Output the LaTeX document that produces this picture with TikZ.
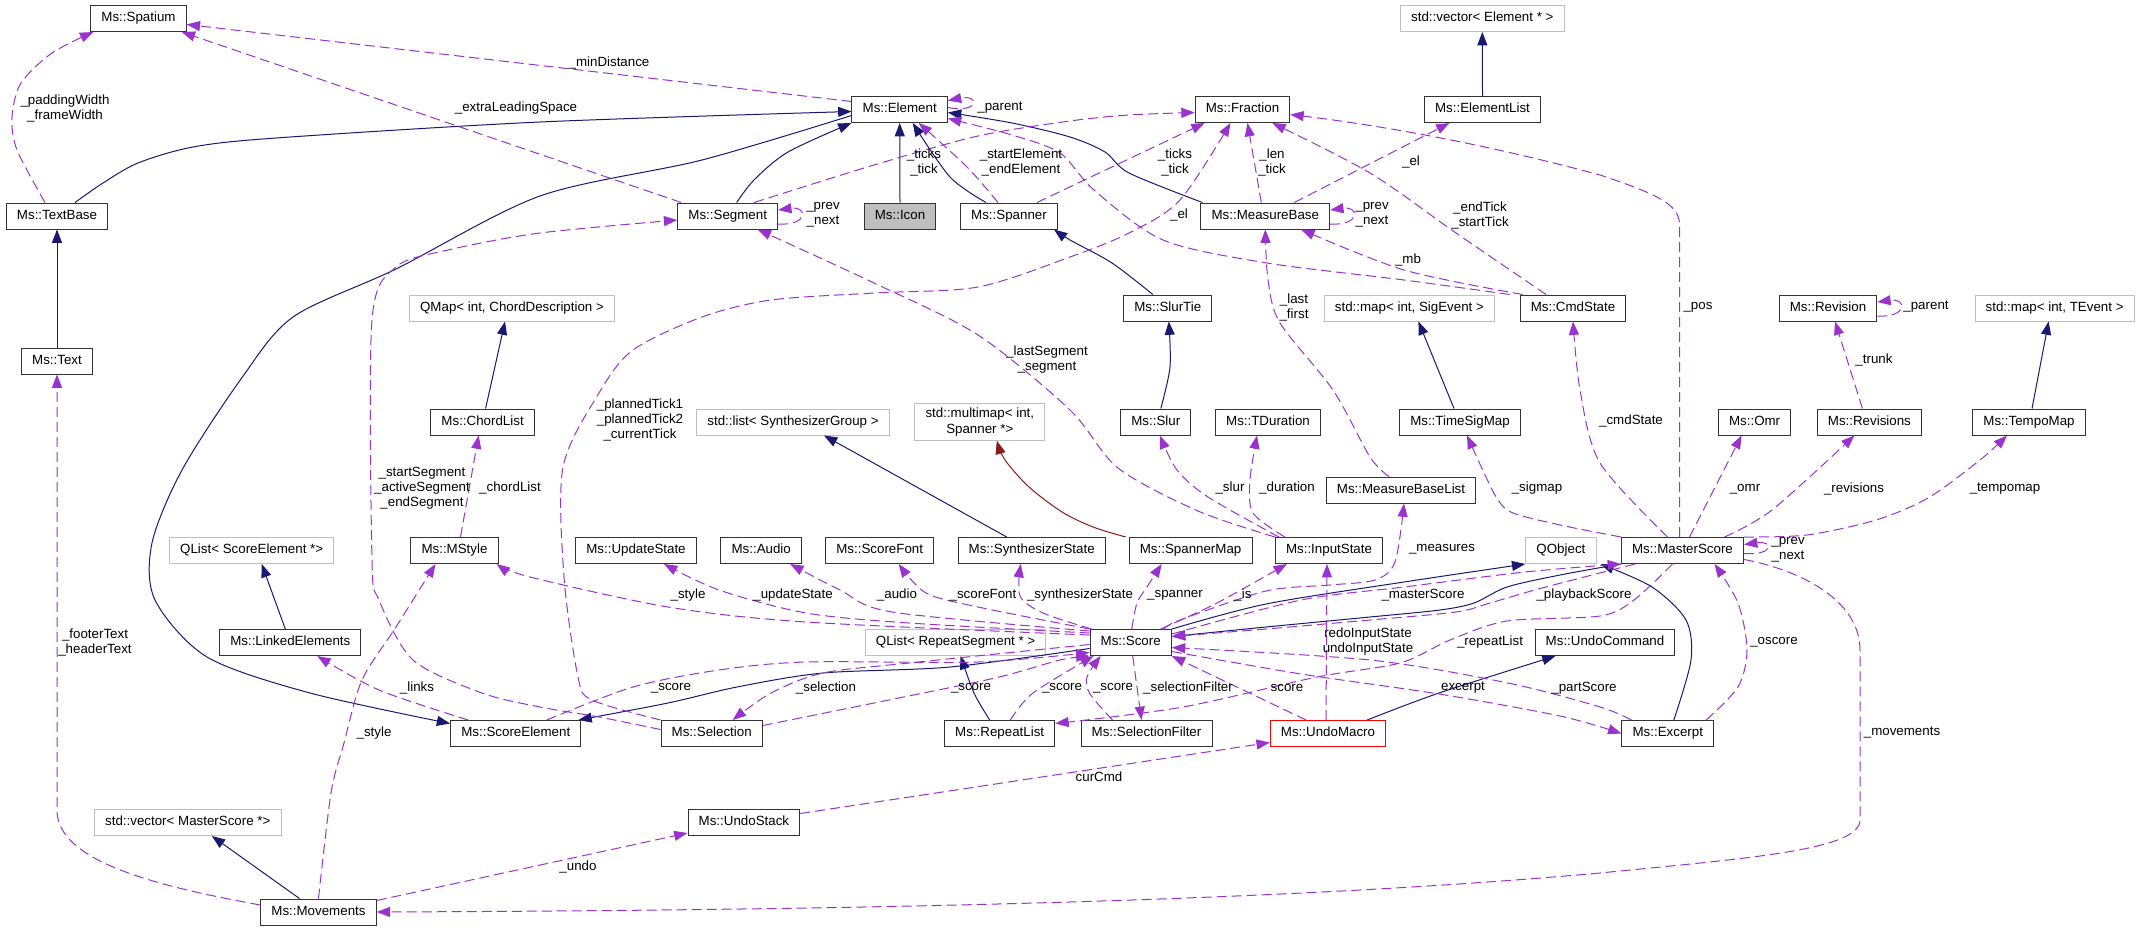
\documentclass[tikz,border=0pt]{standalone}
\usepackage{fontspec}
\setmainfont{Liberation Sans}
\usetikzlibrary{arrows.meta,calc}
\definecolor{inhblue}{HTML}{191970}
\definecolor{usepurple}{HTML}{9A32CD}
\definecolor{tmplred}{HTML}{8B1A1A}
\definecolor{extgrey}{HTML}{BFBFBF}
\tikzset{
  box/.style={line width=0.75pt, fill=white, inner xsep=8pt, inner ysep=2pt, minimum height=19.5pt, font=\fontsize{10}{12}\selectfont},
  cls/.style={box, draw=black!80, text height=7.2pt, text depth=2.1pt},
  ext/.style={box, draw=extgrey, text height=7.2pt, text depth=2.1pt},
  extm/.style={box, draw=extgrey, align=center, inner ysep=3pt},
  lbl/.style={inner sep=0pt, align=center, font=\fontsize{10}{11.25}\selectfont},
  tip/.style={-{Triangle[length=10pt,width=7.5pt]}},
  inherit/.style={draw=inhblue, line width=0.75pt, tip},
  tmpl/.style={draw=tmplred, line width=0.75pt, tip},
  usage/.style={draw=usepurple, line width=0.75pt, dash pattern=on 7.5pt off 3.75pt, tip}
}
\begin{document}
\begin{tikzpicture}[x=0.75pt,y=-0.75pt]
\useasboundingbox (0,0) rectangle (2141,931);

\node[cls] (spatium) at (138.5,18.5) {Ms::Spatium};
\node[cls] (element) at (899.7,109.5) {Ms::Element};
\node[cls] (fraction) at (1242.5,109.5) {Ms::Fraction};
\node[ext] (vecelement) at (1482.3,18.5) {std::vector< Element * >};
\node[cls] (elementlist) at (1482.5,109.5) {Ms::ElementList};
\node[cls] (textbase) at (57,216) {Ms::TextBase};
\node[cls] (segment) at (727.7,216) {Ms::Segment};
\node[cls, fill=extgrey] (icon) at (900,216) {Ms::Icon};
\node[cls] (spanner) at (1009,216) {Ms::Spanner};
\node[cls] (measurebase) at (1265.3,216) {Ms::MeasureBase};
\node[ext] (qmapchord) at (512,308) {QMap< int, ChordDescription >};
\node[cls] (slurtie) at (1167.8,308) {Ms::SlurTie};
\node[ext] (mapsig) at (1409.4,308) {std::map< int, SigEvent >};
\node[cls] (cmdstate) at (1573,308) {Ms::CmdState};
\node[cls] (revision) at (1828,308) {Ms::Revision};
\node[ext] (maptevent) at (2054.6,308) {std::map< int, TEvent >};
\node[cls] (text) at (57,361) {Ms::Text};
\node[cls] (chordlist) at (482.6,422) {Ms::ChordList};
\node[ext] (listsynth) at (793,422) {std::list< SynthesizerGroup >};
\node[extm] (multimap) at (979.8,422) {std::multimap< int,\\ Spanner *>};
\node[cls] (slur) at (1155.8,422) {Ms::Slur};
\node[cls] (tduration) at (1268,422) {Ms::TDuration};
\node[cls] (timesigmap) at (1460,422) {Ms::TimeSigMap};
\node[cls] (omr) at (1754.6,422) {Ms::Omr};
\node[cls] (revisions) at (1869.4,422) {Ms::Revisions};
\node[cls] (tempomap) at (2029,422) {Ms::TempoMap};
\node[cls] (mblist) at (1401,490) {Ms::MeasureBaseList};
\node[ext] (qlistse) at (251.7,550.5) {QList< ScoreElement *>};
\node[cls] (mstyle) at (454.5,550.5) {Ms::MStyle};
\node[cls] (updatestate) at (636,550.5) {Ms::UpdateState};
\node[cls] (audio) at (761.2,550.5) {Ms::Audio};
\node[cls] (scorefont) at (879.7,550.5) {Ms::ScoreFont};
\node[cls] (synthstate) at (1031.7,550.5) {Ms::SynthesizerState};
\node[cls] (spannermap) at (1190.6,550.5) {Ms::SpannerMap};
\node[cls] (inputstate) at (1329,550.5) {Ms::InputState};
\node[ext] (qobject) at (1560.9,550.5) {QObject};
\node[cls] (masterscore) at (1682.5,550.5) {Ms::MasterScore};
\node[cls] (linkedel) at (290.3,642.5) {Ms::LinkedElements};
\node[ext] (qlistrs) at (955.6,642.5) {QList< RepeatSegment * >};
\node[cls] (score) at (1130.7,642.5) {Ms::Score};
\node[cls] (undocommand) at (1605,642.5) {Ms::UndoCommand};
\node[cls] (scoreelement) at (515.8,733.5) {Ms::ScoreElement};
\node[cls] (selection) at (711.7,733.5) {Ms::Selection};
\node[cls] (repeatlist) at (999.7,733.5) {Ms::RepeatList};
\node[cls] (selfilter) at (1146.5,733.5) {Ms::SelectionFilter};
\node[cls, draw=red] (undomacro) at (1328,733.5) {Ms::UndoMacro};
\node[cls] (excerpt) at (1667.8,733.5) {Ms::Excerpt};
\node[ext] (vecms) at (187.8,822.5) {std::vector< MasterScore *>};
\node[cls] (undostack) at (743.9,822.5) {Ms::UndoStack};
\node[cls] (movements) at (318.5,912) {Ms::Movements};

\draw[inherit] (text.north) -- (textbase.south);
\draw[inherit] plot[smooth] coordinates {($(textbase.north)+(18,0)$) (103,183) (138,163) (193,147) (276,138) (540,122) ($(element.west)+(0,2)$)};
\draw[inherit] plot[smooth] coordinates {($(element.west)+(0,6)$) (702,160) (540,196) (396,269) (293,317) (241,379) (182,470) (152,543) (155,600) (207,657) (310,693) ($(scoreelement.west)+(0,-10)$)};
\draw[inherit] plot[smooth] coordinates {($(segment.north)+(9,0)$) (754,180) (788,152) (element.south west)};
\draw[inherit] (icon.north) -- (element.south);
\draw[inherit] plot[smooth] coordinates {($(spanner.north)+(-23,0)$) (950,177) ($(element.south)+(13,0)$)};
\draw[inherit] plot[smooth] coordinates {($(measurebase.north west)+(2,0)$) (1129,173) (1105,152) (1070,137) (1012,123) ($(element.east)+(0,3)$)};
\draw[inherit] plot[smooth] coordinates {($(slurtie.north)+(-15,0)$) (1112,263) (1070,240) ($(spanner.south east)+(-4,0)$)};
\draw[inherit] plot[smooth] coordinates {($(slur.north)+(5,0)$) (1170,367) ($(slurtie.south)+(1,0)$)};
\draw[inherit] (elementlist.north) -- (vecelement.south);
\draw[inherit] ($(chordlist.north)+(3,0)$) -- ($(qmapchord.south)+(-7,0)$);
\draw[inherit] ($(linkedel.north)+(-5,0)$) -- ($(qlistse.south)+(10,0)$);
\draw[inherit] ($(synthstate.north)+(-25,0)$) -- ($(listsynth.south)+(31,0)$);
\draw[inherit] ($(timesigmap.north)+(-6,0)$) -- ($(mapsig.south)+(9,0)$);
\draw[inherit] ($(tempomap.north)+(3,0)$) -- ($(maptevent.south)+(-6,0)$);
\draw[inherit] ($(movements.north)+(-19,0)$) -- ($(vecms.south)+(24,0)$);
\draw[inherit] plot[smooth] coordinates {(score.north east) (1266,604) (1404,582) (qobject.south west)};
\draw[inherit] plot[smooth] coordinates {($(score.west)+(0,6)$) (950,667) (823,673) (737,687) (668,703) ($(scoreelement.north east)+(-3,0)$)};
\draw[inherit] plot[smooth] coordinates {(masterscore.south west) (1560,575) (1507,587) (1474,603) (1440,610) (1370,617) (1266,627) ($(score.east)+(0,-6)$)};
\draw[inherit] plot[smooth] coordinates {($(undomacro.north east)+(-19,0)$) (1439,693) ($(undocommand.south west)+(21,0)$)};
\draw[inherit] plot[smooth] coordinates {($(repeatlist.north)+(-10,0)$) (974,693) ($(qlistrs.south)+(5,0)$)};
\draw[inherit] plot[smooth] coordinates {($(excerpt.north)+(6,0)$) (1691,660) (1686,620) (1652,587) ($(qobject.south east)+(4,0)$)};
\draw[tmpl] plot[smooth] coordinates {($(spannermap.north west)+(-3,0)$) (1093,527) (1062,512) (1029,487) (1005,460) ($(multimap.south)+(17,0)$)};

\draw[usage] ($(element.west)+(0,-8)$) -- ($(spatium.east)+(0,6)$);
\draw[usage] ($(segment.north west)+(4,0)$) -- ($(spatium.south east)+(-5,0)$);
\draw[usage] plot[smooth] coordinates {($(textbase.north)+(-12,0)$) (17,150) (12,117) (21,83) (52,53) ($(spatium.south west)+(3,0)$)};
\draw[usage] ($(element.east)+(0,-2)$) .. controls +(32,6) and +(32,-6) .. ($(element.east)+(0,-9)$);
\draw[usage] ($(segment.east)+(0,8)$) .. controls +(30,2) and +(30,-4) .. ($(segment.east)+(0,-6)$);
\draw[usage] ($(measurebase.east)+(0,8)$) .. controls +(30,2) and +(30,-4) .. ($(measurebase.east)+(0,-6)$);
\draw[usage] ($(revision.east)+(0,8)$) .. controls +(30,2) and +(30,-4) .. ($(revision.east)+(0,-6)$);
\draw[usage] ($(masterscore.east)+(0,3)$) .. controls +(30,2) and +(30,-4) .. ($(masterscore.east)+(0,-6)$);
\draw[usage] plot[smooth] coordinates {($(segment.north east)+(-24,0)$) (874,165) (978,136) (1070,121) (1129,115) ($(fraction.west)+(0,3)$)};
\draw[usage] ($(spanner.north east)+(-21,0)$) -- ($(fraction.south west)+(10,0)$);
\draw[usage] plot[smooth] coordinates {($(spanner.north)+(-11,0)$) (967,167) ($(element.south)+(19,0)$)};
\draw[usage] ($(measurebase.north)+(-4,0)$) -- ($(fraction.south)+(5,0)$);
\draw[usage] ($(measurebase.north)+(29,0)$) -- ($(elementlist.south)+(-33,0)$);
\draw[usage] plot[smooth] coordinates {($(cmdstate.north)+(-27,0)$) (1456,233) (1370,173) ($(fraction.south east)+(-18,0)$)};
\draw[usage] plot[smooth] coordinates {($(cmdstate.north west)+(3,0)$) (1404,270) ($(measurebase.south east)+(-29,0)$)};
\draw[usage] plot[smooth] coordinates {($(cmdstate.north west)+(-10,0)$) (1404,280) (1267,263) (1163,240) (1094,190) (1060,153) (1012,135) ($(element.east)+(0,9)$)};
\draw[usage] ($(masterscore.north)+(-3,0)$) -- (1679.5,225) .. controls (1679.5,205) and (1660,195) .. (1600,175) .. controls (1500,148) and (1400,128) .. ($(fraction.east)+(0,5)$);
\draw[usage] ($(movements.west)+(0,-7)$) .. controls (150,885) and (57,860) .. (57,810) -- (text.south);
\draw[usage] plot[smooth] coordinates {(movements.north) (331,793) (344,743) (362,680) (396,627) ($(mstyle.south)+(-19,0)$)};
\draw[usage] ($(movements.north east)+(0,2)$) -- ($(undostack.south west)+(0,-3)$);
\draw[usage] ($(masterscore.east)+(0,9)$) .. controls (1800,570) and (1860,600) .. (1860,650) -- (1860,820) .. controls (1860,850) and (1750,858) .. (1600,873) .. controls (1300,900) and (900,910) .. (movements.east);
\draw[usage] ($(undostack.east)+(0,-9)$) -- ($(undomacro.west)+(0,9)$);
\draw[usage] ($(mstyle.north)+(6,0)$) -- ($(chordlist.south)+(-4,0)$);
\draw[usage] plot[smooth] coordinates {($(masterscore.north)+(-15,0)$) (1600,463) (1580,390) (cmdstate.south)};
\draw[usage] plot[smooth] coordinates {(masterscore.north west) (1560,525) (1513,513) (1498,500) (1485,475) ($(timesigmap.south)+(7,0)$)};
\draw[usage] ($(masterscore.north)+(7,0)$) -- ($(omr.south)+(-13,0)$);
\draw[usage] plot[smooth] coordinates {($(masterscore.north)+(42,0)$) (1772,510) ($(revisions.south)+(-15,0)$)};
\draw[usage] plot[smooth] coordinates {(masterscore.north east) (1807,535) (1876,520) (1928,498) (1980,460) ($(tempomap.south)+(-22,0)$)};
\draw[usage] ($(revisions.north)+(-7,0)$) -- ($(revision.south)+(7,0)$);
\draw[usage] plot[smooth] coordinates {($(mblist.north)+(-12,0)$) (1370,457) (1333,390) (1280,323) (1268,280) (measurebase.south)};
\draw[usage] plot[smooth] coordinates {($(score.north east)+(-8,0)$) (1180,620) (1266,591) (1330,585) (1375,580) (1395,562) ($(mblist.south)+(3,0)$)};
\draw[usage] plot[smooth] coordinates {($(inputstate.north west)+(4,0)$) (1208,497) (1177,470) ($(slur.south)+(4,0)$)};
\draw[usage] plot[smooth] coordinates {(inputstate.north west) (1198,511) (1118,468) (1070,410) (978,335) (874,283) ($(segment.south)+(30,0)$)};
\draw[usage] plot[smooth] coordinates {($(inputstate.north west)+(10,0)$) (1253,513) (1250,480) ($(tduration.south)+(-11,0)$)};
\draw[usage] plot[smooth] coordinates {($(score.north west)+(0,6)$) (806,622) (668,607) (530,577) ($(mstyle.south east)+(-2,0)$)};
\draw[usage] plot[smooth] coordinates {($(score.north west)+(0,4)$) (909,623) (806,613) (719,590) ($(updatestate.south)+(28,0)$)};
\draw[usage] plot[smooth] coordinates {($(score.north west)+(0,2)$) (892,612) (840,590) ($(audio.south)+(29,0)$)};
\draw[usage] plot[smooth] coordinates {(score.north west) (978,607) (926,593) ($(scorefont.south)+(19,0)$)};
\draw[usage] plot[smooth] coordinates {($(score.north west)+(2,0)$) (1043,613) (1020,596) ($(synthstate.south)+(-11,0)$)};
\draw[usage] plot[smooth] coordinates {($(score.north)+(1,0)$) (1137,603) (1147,587) ($(spannermap.south)+(-29,0)$)};
\draw[usage] plot[smooth] coordinates {($(score.north)+(30,0)$) (1217,603) ($(inputstate.south west)+(12,0)$)};
\draw[usage] plot[smooth] coordinates {($(score.north east)+(0,5)$) (1301,600) (1404,587) (1525,572) (masterscore.south west)};
\draw[usage] plot[smooth] coordinates {($(masterscore.south west)+(14,0)$) (1542,588) (1490,603) (1456,612) (1370,620) (1266,629) ($(score.east)+(0,-6)$)};
\draw[usage] plot[smooth] coordinates {($(masterscore.south)+(-10,0)$) (1634,600) (1600,616) (1507,621) (1450,640) (1400,663) (1317,677) (1183,707) ($(repeatlist.east)+(0,-10)$)};
\draw[usage] ($(undomacro.north)+(-2,0)$) -- ($(inputstate.south)+(-2,0)$);
\draw[usage] ($(undomacro.north)+(-22,0)$) -- (score.south east);
\draw[usage] ($(score.south)+(2,0)$) -- ($(selfilter.north)+(-5,0)$);
\draw[usage] plot[smooth] coordinates {($(selfilter.north)+(-34,0)$) (1090,694) (1087,677) ($(score.south)+(-30,0)$)};
\draw[usage] plot[smooth] coordinates {($(repeatlist.north east)+(-45,0)$) (1033,693) ($(score.south west)+(4,0)$)};
\draw[usage] plot[smooth] coordinates {($(selection.east)+(0,-8)$) (874,703) (995,678) (1060,660) (score.south west)};
\draw[usage] plot[smooth] coordinates {($(scoreelement.north)+(31,0)$) (633,687) (719,670) (806,662) (978,662) ($(score.west)+(0,10)$)};
\draw[usage] plot[smooth] coordinates {($(score.west)+(0,2)$) (909,663) (823,673) (771,693) ($(selection.north)+(21,0)$)};
\draw[usage] plot[smooth] coordinates {($(scoreelement.north west)+(18,0)$) (379,690) ($(linkedel.south)+(27,0)$)};
\draw[usage] plot[smooth] coordinates {($(excerpt.north west)+(10,0)$) (1600,707) (1508,683) (1370,660) ($(score.east)+(0,5)$)};
\draw[usage] plot[smooth] coordinates {($(score.east)+(0,9)$) (1301,674) (1439,694) (1560,716) (excerpt.west)};
\draw[usage] plot[smooth] coordinates {($(excerpt.north east)+(-8,0)$) (1738,687) (1747,650) (1738,603) ($(masterscore.south)+(32,0)$)};
\draw[usage] plot[smooth] coordinates {($(selection.west)+(0,-4)$) (599,717) (540,707) (482,693) (413,660) (379,600) (372,560) (372,320) (396,267) (448,250) (540,233) ($(segment.west)+(0,4)$)};
\draw[usage] plot[smooth] coordinates {(selection.north west) (592,700) (578,677) (564,577) (563,467) (599,393) (633,350) (702,317) (771,300) (874,293) (978,287) (1070,257) (1129,233) (1180,200) ($(fraction.south)+(-12,0)$)};

\node[lbl] (lmindistance) at (609,63) {\_minDistance};
\node[lbl] (lextralead) at (516,108) {\_extraLeadingSpace};
\node[lbl] (lpadding) at (65,108) {\_paddingWidth\\\_frameWidth};
\node[lbl] (lparentel) at (1000,108) {\_parent};
\node[lbl] (lprevseg) at (823,215) {\_prev\\\_next};
\node[lbl] (lticksseg) at (924,162) {\_ticks\\\_tick};
\node[lbl] (lstartel) at (1021,162) {\_startElement\\\_endElement};
\node[lbl] (lticksspan) at (1175,162) {\_ticks\\\_tick};
\node[lbl] (llentick) at (1272,162) {\_len\\\_tick};
\node[lbl] (lelmb) at (1411,162) {\_el};
\node[lbl] (lelcmd) at (1179,215) {\_el};
\node[lbl] (lprevmb) at (1372,215) {\_prev\\\_next};
\node[lbl] (lendtick) at (1480,215) {\_endTick\\\_startTick};
\node[lbl] (lmb) at (1408,260) {\_mb};
\node[lbl] (lpos) at (1698,307) {\_pos};
\node[lbl] (llastfirst) at (1294,307) {\_last\\\_first};
\node[lbl] (lparentrev) at (1926,307) {\_parent};
\node[lbl] (ltrunk) at (1874,360) {\_trunk};
\node[lbl] (lcmdstate) at (1631,421) {\_cmdState};
\node[lbl] (lplanned) at (640,420) {\_plannedTick1\\\_plannedTick2\\\_currentTick};
\node[lbl] (llastseg) at (1047,360) {\_lastSegment\\\_segment};
\node[lbl] (lstartseg) at (422,488) {\_startSegment\\\_activeSegment\\\_endSegment};
\node[lbl] (lchordlist) at (510,488) {\_chordList};
\node[lbl] (lslur) at (1230,488) {\_slur};
\node[lbl] (lduration) at (1287,488) {\_duration};
\node[lbl] (lsigmap) at (1537,488) {\_sigmap};
\node[lbl] (lomr) at (1745,489) {\_omr};
\node[lbl] (lrevisions) at (1854,489) {\_revisions};
\node[lbl] (ltempomap) at (2005,489) {\_tempomap};
\node[lbl] (lprevms) at (1788,550) {\_prev\\\_next};
\node[lbl] (lmeasures) at (1442,549) {\_measures};
\node[lbl] (lstylescore) at (688,595) {\_style};
\node[lbl] (lupdatestate) at (793,595) {\_updateState};
\node[lbl] (laudio) at (897,595) {\_audio};
\node[lbl] (lscorefont) at (983,595) {\_scoreFont};
\node[lbl] (lsynthstate) at (1080,595) {\_synthesizerState};
\node[lbl] (lspanner) at (1175,595) {\_spanner};
\node[lbl] (lis) at (1243,595) {\_is};
\node[lbl] (lmasterscore) at (1423,595) {\_masterScore};
\node[lbl] (lplayback) at (1584,595) {\_playbackScore};
\node[lbl] (lrepeatlist) at (1490,642) {\_repeatList};
\node[lbl] (lredoinput) at (1368,642) {redoInputState\\undoInputState};
\node[lbl] (llinks) at (417,688) {\_links};
\node[lbl] (lscorese) at (671,688) {\_score};
\node[lbl] (lselection) at (826,688) {\_selection};
\node[lbl] (lscoresel) at (971,688) {\_score};
\node[lbl] (lscorerl) at (1062,688) {\_score};
\node[lbl] (lscoresf) at (1113,688) {\_score};
\node[lbl] (lselfilter) at (1188,688) {\_selectionFilter};
\node[lbl] (lscoreum) at (1287,688) {score};
\node[lbl] (lexcerpt) at (1463,688) {excerpt};
\node[lbl] (lpartscore) at (1584,688) {\_partScore};
\node[lbl] (loscore) at (1774,642) {\_oscore};
\node[lbl] (lmovements) at (1902,733) {\_movements};
\node[lbl] (lstylemov) at (374,733) {\_style};
\node[lbl] (lfooter) at (95,642) {\_footerText\\\_headerText};
\node[lbl] (lundo) at (578,867) {\_undo};
\node[lbl] (lcurcmd) at (1099,777) {curCmd};
\end{tikzpicture}
\end{document}
